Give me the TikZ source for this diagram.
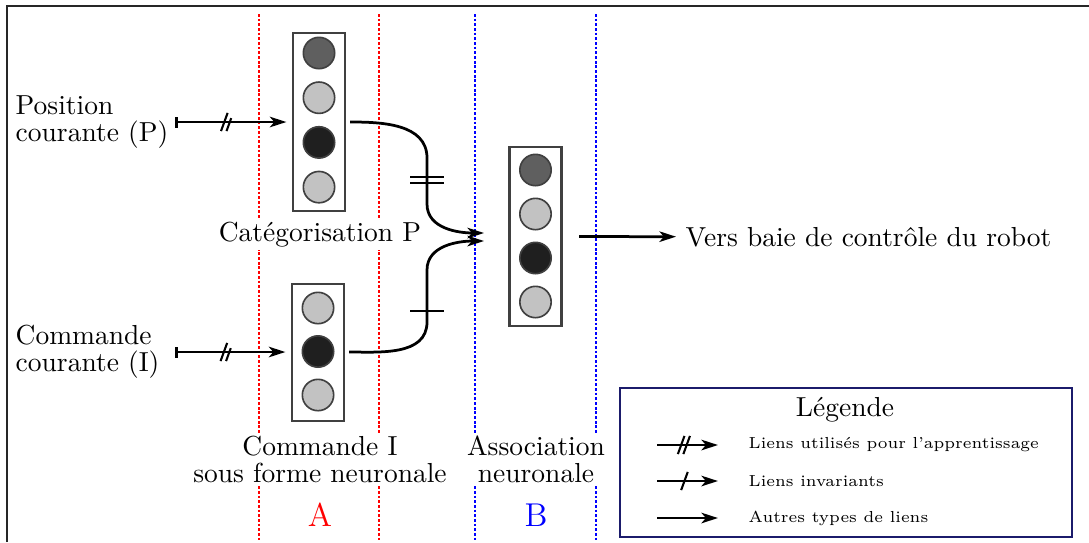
\documentclass[tikz,border=0pt]{standalone}
\usepackage{tikz}
\usetikzlibrary{arrows.meta}
\usetikzlibrary{decorations.markings}
\usetikzlibrary{positioning}
\RequirePackage{xcolor}

\definecolor{neurfonce}{HTML}{5F5F5F}
\definecolor{neurclair}{HTML}{C2C2C2}
\definecolor{neurnoir}{HTML}{1F1F1F}
\definecolor{bleulegende}{HTML}{1B1B6B}

\tikzset{
  lien/.style={line width=1pt, -{Stealth[length=6pt,width=3.8pt,inset=1.6pt]}},
  apprentissage/.style={lien, postaction={decorate}, decoration={markings,
      mark=at position #1 with {\draw[-, line width=0.75pt] (-2.4pt,-3.3pt) -- (0pt,3.3pt) (-0.4pt,-3.3pt) -- (2pt,3.3pt);}}},
  apprentissage/.default=0.45,
  invariant/.style={lien, postaction={decorate}, decoration={markings,
      mark=at position #1 with {\draw[-, line width=0.75pt] (-1.2pt,-3.3pt) -- (1.2pt,3.3pt);}}},
  invariant/.default=0.45,
  boite/.style={draw=black!75, line width=0.8pt, minimum width=18.9pt, inner sep=0pt},
  neurone/.style={circle, draw=black!75, line width=0.6pt, minimum size=11.4pt, inner sep=0pt},
  separation/.style={dash pattern=on 1pt off 0.7pt, line width=0.5pt},
  deuxlignes/.style={font=\linespread{0.82}\selectfont},
  titre/.style={deuxlignes, fill=white, align=center, inner sep=1pt},
}

\begin{document}
\begin{tikzpicture}[x=0.3636pt, y=-0.3636pt]
  \useasboundingbox (0,0) rectangle (1089,542);
  % cadre
  \draw[line width=0.7pt, black!85] (7,542) -- (7,6) -- (1089,6);

  % zones A et B
  \foreach \x in {259,379} \draw[separation, red] (\x,14) -- (\x,542);
  \foreach \x in {475,596} \draw[separation, blue] (\x,14) -- (\x,542);

  % groupes de neurones
  \node[boite, minimum height=64.7pt] (boiteP) at (319,122) {};
  \foreach \c [count=\i] in {neurfonce,neurclair,neurnoir,neurclair}
    \node[neurone, fill=\c] (p\i) at (319,{53+44.7*(\i-1)}) {};
  \node[boite, minimum height=49.8pt] (boiteI) at (318,352.5) {};
  \foreach \c [count=\i] in {neurclair,neurnoir,neurclair}
    \node[neurone, fill=\c] (i\i) at (318,{308+43.5*(\i-1)}) {};
  \node[boite, minimum height=65pt] (boiteB) at (535.5,236.5) {};
  \foreach \c [count=\i] in {neurfonce,neurclair,neurnoir,neurclair}
    \node[neurone, fill=\c] (b\i) at (535.5,{170+44*(\i-1)}) {};

  % textes
  \node[deuxlignes, align=left, anchor=west] (posP) at (6,122) {Position\\courante (P)};
  \node[deuxlignes, align=left, anchor=west] (comI) at (6,352) {Commande\\courante (I)};
  \node[titre] (catP) at (320,235) {Catégorisation P};
  \node[titre] (titreA) at (320,459) {Commande I\\sous forme neuronale};
  \node[titre] (titreB) at (536,459) {Association\\neuronale};
  \node[red, font=\large] (A) at (320,515) {A};
  \node[blue, font=\large] (B) at (536,515) {B};
  \node[anchor=west] (vers) at (676,237) {Vers baie de contrôle du robot};

  % liens
  \coordinate (debP) at (175,122);
  \coordinate (debI) at (175,352);
  \draw[apprentissage, {Bar[width=4pt]}-{Stealth[length=6pt,width=3.8pt,inset=1.6pt]}, shorten >=2pt]
    (debP) -- (debP -| boiteP.west);
  \draw[apprentissage, {Bar[width=4pt]}-{Stealth[length=6pt,width=3.8pt,inset=1.6pt]}, shorten >=2pt]
    (debI) -- (debI -| boiteI.west);

  \coordinate (hautP) at (427,158);
  \coordinate (basP) at (427,204);
  \coordinate (hautI) at (427,270);
  \coordinate (basI) at (427,322);
  \coordinate (entreeB1) at (484,233);
  \coordinate (entreeB2) at (484,241);
  \draw[lien, shorten <=1.5pt] (boiteP.east |- debP) to[out=0,in=90] (hautP) -- (basP) to[out=-90,in=180] (entreeB1);
  \draw[lien, shorten <=1.5pt] (boiteI.east |- debI) to[out=0,in=-90] (basI) -- (hautI) to[out=90,in=180] (entreeB2);
  \draw[line width=0.7pt] (410,177) -- (444,177) (410,183) -- (444,183);
  \draw[line width=0.7pt] (410,311) -- (444,311);

  \draw[lien, shorten <=6pt] (boiteB.east) -- (vers);

  % legende
  \node[draw=bleulegende, line width=0.6pt, minimum width=164.3pt, minimum height=54.2pt] (legende) at (846,462.5) {};
  \node (titreLeg) at (845,410) {Légende};
  \foreach \y/\s/\t in {445/apprentissage/Liens utilisés pour l'apprentissage,
                        481/invariant/Liens invariants,
                        518/lien/Autres types de liens}
  {
    \coordinate (d\y) at (657,\y);
    \coordinate (f\y) at (718,\y);
    \draw[\s] (d\y) -- (f\y);
    \node[anchor=west, font=\fontsize{5.8}{7}\selectfont] (t\y) at (739,\y) {\t};
  }
\end{tikzpicture}
\end{document}
